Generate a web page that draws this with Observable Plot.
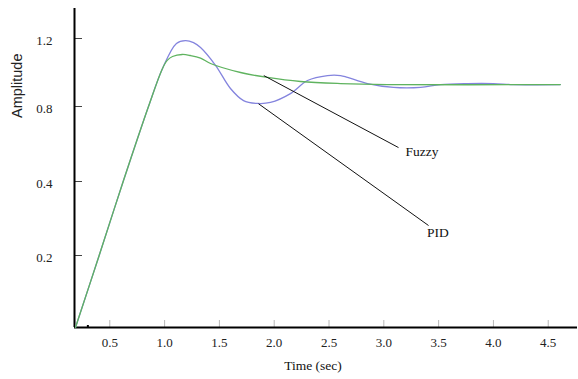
<!DOCTYPE html>
<html><head><meta charset="utf-8">
<script src="https://cdn.jsdelivr.net/npm/d3@7"></script>
<script src="https://cdn.jsdelivr.net/npm/@observablehq/plot@0.6"></script>
<style>body{margin:0;background:#fff}</style>
</head><body><div id="chart"></div>
<script>
// tick labels
const xTicks = [0.5, 1.0, 1.5, 2.0, 2.5, 3.0, 3.5, 4.0, 4.5];
const yTicks = [0.2, 0.4, 0.8, 1.2];
const xMin = 0.178, xMax = 4.767;
// the printed amplitude axis is not evenly spaced: piecewise breakpoints
const yBreaks = [0, 0.2, 0.4, 0.8, 1.2, 1.376];

// PID step response
const pidT = [0.187, 0.403, 0.625, 0.853, 0.981, 1.108, 1.19, 1.264, 1.328, 1.466, 1.601, 1.72, 1.847, 1.966, 2.148, 2.304, 2.486, 2.605, 2.669, 2.851, 3.088, 3.335, 3.517, 3.763, 4.0, 4.18, 4.61];
const pidA = [0, 0.2, 0.405, 0.8, 1.024, 1.171, 1.188, 1.176, 1.147, 1.041, 0.906, 0.835, 0.818, 0.824, 0.876, 0.953, 0.982, 0.982, 0.971, 0.935, 0.912, 0.912, 0.929, 0.935, 0.935, 0.929, 0.929];
// Fuzzy step response
const fuzT = [0.187, 0.403, 0.625, 0.853, 0.981, 1.024, 1.072, 1.161, 1.236, 1.328, 1.419, 1.693, 1.939, 2.24, 2.605, 3.034, 4.61];
const fuzA = [0, 0.2, 0.405, 0.8, 1.024, 1.071, 1.094, 1.106, 1.1, 1.085, 1.053, 1.0, 0.971, 0.947, 0.935, 0.929, 0.929];

// annotation leaders
const labels = ["Fuzzy", "PID"];
const leadT1 = [1.905, 1.857], leadA1 = [0.982, 0.816];
const leadT2 = [3.134, 3.408], leadA2 = [0.581, 0.281];
const labelT = [3.198, 3.393], labelA = [0.558, 0.263];

const pid = pidT.map((t, i) => ({t, a: pidA[i]}));
const fuz = fuzT.map((t, i) => ({t, a: fuzA[i]}));
const ann = labels.map((s, i) => ({s, x1: leadT1[i], y1: leadA1[i], x2: leadT2[i], y2: leadA2[i], lx: labelT[i], ly: labelA[i]}));

const serif = "'Liberation Serif', 'Times New Roman', serif";
const sans = "'Liberation Sans', Arial, sans-serif";

const chart = Plot.plot({
  width: 578, height: 379,
  marginLeft: 74, marginRight: 1, marginTop: 8, marginBottom: 52,
  style: {fontFamily: serif, fontSize: "13px", background: "#fff", color: "#222"},
  x: {domain: [xMin, xMax]},
  y: {type: "linear", domain: yBreaks, range: [327, 255, 181, 106, 38, 8]},
  marks: [
    Plot.axisX({ticks: xTicks, tickSize: 7, dy: -7, tickFormat: () => "", stroke: "#b8b8b8", label: null}),
    Plot.axisX({ticks: [0.3], tickSize: 2, dy: -2, tickFormat: () => "", stroke: "#000", strokeWidth: 2, label: null}),
    Plot.axisX({ticks: xTicks, tickSize: 0, tickPadding: 10, tickFormat: d => d.toFixed(1), fontSize: 13, fontFamily: serif, fill: "#222", label: null}),
    Plot.axisY({ticks: yTicks, tickSize: 8, dx: 8, tickFormat: () => "", stroke: "#444", label: null}),
    Plot.axisY({ticks: yTicks, tickSize: 0, tickPadding: 22, tickFormat: d => d.toFixed(1), fontSize: 13, fontFamily: serif, fill: "#222", dy: 2, label: null}),
    Plot.ruleX([xMin], {y1: 0, y2: yBreaks[yBreaks.length - 1], stroke: "#000", strokeWidth: 2}),
    Plot.ruleY([0], {x1: xMin, x2: xMax, stroke: "#000", strokeWidth: 2}),
    Plot.line(pid, {x: "t", y: "a", stroke: "#8484de", strokeWidth: 1.3, curve: "catmull-rom"}),
    Plot.line(fuz, {x: "t", y: "a", stroke: "#5fb35f", strokeWidth: 1.3, curve: "catmull-rom"}),
    Plot.link(ann, {x1: "x1", y1: "y1", x2: "x2", y2: "y2", stroke: "#111", strokeWidth: 1}),
    Plot.text(ann, {x: "lx", y: "ly", text: "s", textAnchor: "start", fontSize: 13.5, fontFamily: serif, fill: "#111"}),
    Plot.text(["Time (sec)"], {frameAnchor: "bottom", dx: -13, dy: 42, fontSize: 13.5, fontFamily: serif, fill: "#111"}),
    Plot.text(["Amplitude"], {frameAnchor: "left", rotate: -90, dx: -57, dy: -50, fontSize: 14.5, fontFamily: sans, fill: "#222"})
  ]
});
document.getElementById("chart").append(chart);
</script>
</body></html>
